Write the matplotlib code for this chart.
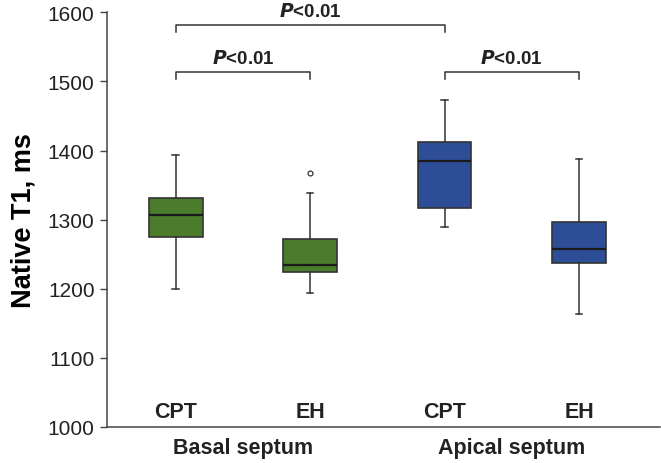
import matplotlib
matplotlib.use('Agg')
import matplotlib.pyplot as plt

plt.rcParams['font.family'] = ['Liberation Sans', 'DejaVu Sans']

# Box statistics (ms)
groups = ['CPT', 'EH', 'CPT', 'EH']
regions = ['Basal septum', 'Apical septum']
region_centers = [1.5, 3.5]
whislo = [1200, 1194, 1290, 1163]
q1 = [1275, 1224, 1317, 1237]
med = [1307, 1234, 1385, 1258]
q3 = [1331, 1272, 1413, 1296]
whishi = [1394, 1339, 1473, 1388]
fliers = [[], [1367], [], []]
box_colors = ['#4a7c2b', '#4a7c2b', '#2d4e96', '#2d4e96']

# Significance brackets: (left box, right box, level)
brackets = [(1, 2, 1513), (3, 4, 1513), (1, 3, 1581)]
p_label = '$\\boldsymbol{P}$<0.01'

positions = [1, 2, 3, 4]
stats = []
for i in range(len(groups)):
    stats.append({'whislo': whislo[i], 'q1': q1[i], 'med': med[i],
                  'q3': q3[i], 'whishi': whishi[i], 'fliers': fliers[i]})

fig = plt.figure(figsize=(6.61, 4.64), dpi=100)
ax = fig.add_axes([0.162, 0.0776, 0.836, 0.8937])

edge = '#333333'
bp = ax.bxp(stats, positions=positions, widths=0.4, capwidths=0.05,
            patch_artist=True, showfliers=True,
            boxprops=dict(edgecolor=edge, linewidth=1.2),
            medianprops=dict(color='#1a1a1a', linewidth=1.6),
            whiskerprops=dict(color=edge, linewidth=1.1),
            capprops=dict(color=edge, linewidth=1.1),
            flierprops=dict(marker='o', markersize=3.5, markerfacecolor='white',
                            markeredgecolor=edge, markeredgewidth=0.9))
for patch, c in zip(bp['boxes'], box_colors):
    patch.set_facecolor(c)

ax.set_ylim(1000, 1600)
ax.set_xlim(0.49, 4.6)
ax.set_yticks([1000, 1100, 1200, 1300, 1400, 1500, 1600])
ax.tick_params(axis='y', labelsize=15, length=5, width=1, color='#444444',
               labelcolor='#222222', pad=4)
ax.set_xticks([])
ax.set_ylabel('Native T1, ms', fontsize=19.5, fontweight='bold', labelpad=8)

for side in ['top', 'right']:
    ax.spines[side].set_visible(False)
for side in ['left', 'bottom']:
    ax.spines[side].set_color('#444444')
    ax.spines[side].set_linewidth(1.1)

# Group labels inside the axes
for x, g in zip(positions, groups):
    ax.text(x, 1022, g, ha='center', va='center', fontsize=15.5,
            fontweight='bold', color='#222222')

# Region labels below the axis
for x, r in zip(region_centers, regions):
    ax.text(x, 986, r, ha='center', va='top', fontsize=15.5,
            fontweight='bold', color='#222222', clip_on=False)

# Brackets
for a, b, lvl in brackets:
    xa, xb = positions[a - 1], positions[b - 1]
    ax.plot([xa, xa, xb, xb], [lvl - 10, lvl, lvl, lvl - 10], color=edge,
            linewidth=1.1, clip_on=False)
    ax.text((xa + xb) / 2, lvl + 8, p_label, ha='center', va='bottom',
            fontsize=13.5, fontweight='bold', color='#222222', clip_on=False)

fig.savefig('out.png', dpi=100)
